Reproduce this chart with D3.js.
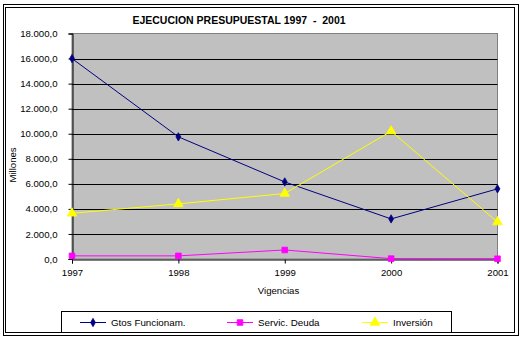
<!DOCTYPE html>
<html><head><meta charset="utf-8">
<script src="https://cdn.jsdelivr.net/npm/d3@7"></script>
<style>
html,body{margin:0;padding:0;background:#fff;}
svg{display:block;font-family:"Liberation Sans",Arial,sans-serif;}
</style></head>
<body>
<svg id="c" width="525" height="339"></svg>
<script>
const years = ["1997","1998","1999","2000","2001"];
const gtosFuncionam = [16000, 9750, 6150, 3200, 5600];
const servicDeuda = [250, 250, 720, 30, 20];
const inversion = [3650, 4400, 5230, 10200, 2950];
const yTicks = [0,2000,4000,6000,8000,10000,12000,14000,16000,18000];
const seriesNames = ["Gtos Funcionam.","Servic. Deuda","Inversión"];
const seriesColors = ["#000080","#FF00FF","#FFFF00"];
const seriesData = [gtosFuncionam, servicDeuda, inversion];
const title = "EJECUCION PRESUPUESTAL 1997  -  2001";

const svg = d3.select("#c");
const L = 72, R = 497.5, T = 33.5, B = 259;

// frame
svg.append("rect").attr("x",3.5).attr("y",4.5).attr("width",515).attr("height",331)
  .attr("fill","#fff").attr("stroke","#000").attr("stroke-width",1);
svg.append("rect").attr("x",5.5).attr("y",7.5).attr("width",509).attr("height",325)
  .attr("fill","#fff").attr("stroke","#000").attr("stroke-width",1);

const x = d3.scalePoint().domain(years).range([L, R]);
const y = d3.scaleLinear().domain([0,18000]).range([B, T]);

// plot area
svg.append("rect").attr("x",L).attr("y",T).attr("width",R-L).attr("height",B-T)
  .attr("fill","#C0C0C0").attr("stroke","#808080").attr("stroke-width",1);

// gridlines
svg.append("g").selectAll("line").data(yTicks.filter(d=>d>0 && d<18000)).join("line")
  .attr("x1",L).attr("x2",R).attr("y1",d=>Math.round(y(d))+0.5).attr("y2",d=>Math.round(y(d))+0.5)
  .attr("stroke","#000").attr("stroke-width",1);

const fmt = d => d3.format(",.1f")(d).replace(/,/g,"#").replace(/\./g,",").replace(/#/g,".");
const FONT = "'Liberation Sans',Arial,sans-serif";

// y axis
const yAxis = d3.axisLeft(y).tickValues(yTicks).tickSize(4).tickPadding(11).tickFormat(fmt);
const gy = svg.append("g").attr("transform",`translate(${L+0.5},0)`).call(yAxis);
gy.select(".domain").attr("stroke","#000");
gy.selectAll(".tick line").attr("stroke","#000");
gy.selectAll("text").attr("font-size","9.6px").attr("fill","#000").attr("font-family",FONT);

// x axis
const xAxis = d3.axisBottom(x).tickSize(4).tickPadding(6);
const gx = svg.append("g").attr("transform",`translate(0,${B+0.5})`).call(xAxis);
gx.select(".domain").attr("stroke","#000");
gx.selectAll(".tick line").attr("stroke","#000");
gx.selectAll("text").attr("font-size","9.6px").attr("fill","#000").attr("font-family",FONT);

// lines
const line = d3.line().x((d,i)=>x(years[i])).y(d=>y(d));
seriesData.forEach((s,k)=>{
  svg.append("path").datum(s).attr("d",line).attr("fill","none")
    .attr("stroke",seriesColors[k]).attr("stroke-width",1);
});

const symbols = [d3.symbolDiamond, d3.symbolSquare, d3.symbolTriangle];
const sizes = [20, 32, 40];
function marker(g, k, cx, cy){
  g.append("path").attr("d", d3.symbol().type(symbols[k]).size(sizes[k])())
    .attr("transform",`translate(${cx},${cy})`)
    .attr("fill",seriesColors[k]).attr("stroke",seriesColors[k]).attr("stroke-width",0.8);
}
seriesData.forEach((s,k)=>{
  const g = svg.append("g");
  s.forEach((v,i)=>marker(g,k,x(years[i]),y(v)));
});

// title
svg.append("text").attr("x",239).attr("y",24).attr("text-anchor","middle")
  .attr("font-size","10.5px").attr("font-weight","bold")
  .style("white-space","pre").text(title);

// axis titles
svg.append("text").attr("transform","translate(16,165) rotate(-90)").attr("text-anchor","middle")
  .attr("font-size","9.6px").text("Millones");
svg.append("text").attr("x",278.5).attr("y",294).attr("text-anchor","middle")
  .attr("font-size","9.6px").text("Vigencias");

// legend
svg.append("rect").attr("x",61.5).attr("y",311.5).attr("width",390).attr("height",21)
  .attr("fill","#fff").attr("stroke","#000").attr("stroke-width",1);
const legX = [80, 227, 362];
seriesNames.forEach((n,k)=>{
  const lg = svg.append("g");
  lg.append("line").attr("x1",legX[k]).attr("x2",legX[k]+26).attr("y1",322.5).attr("y2",322.5)
    .attr("stroke",seriesColors[k]).attr("stroke-width",1);
  marker(lg,k,legX[k]+13,322.5);
  lg.append("text").attr("x",legX[k]+31).attr("y",326).attr("font-size","9.8px").text(n);
});
</script>
</body></html>
